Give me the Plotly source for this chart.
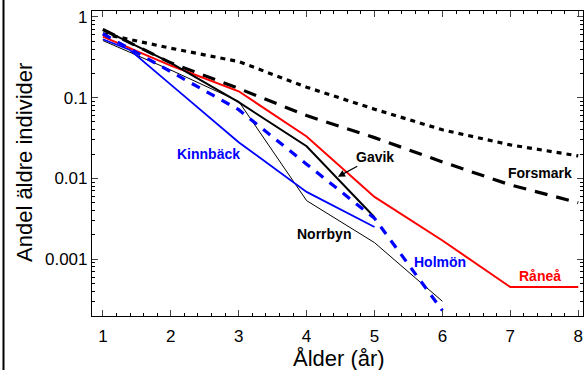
import plotly.graph_objects as go
import numpy as np

ages = [1, 2, 3, 4, 5, 6, 7, 8]

dotted_vals = [0.62, 0.41, 0.28, 0.135, 0.072, 0.04, 0.026, 0.019]
forsmark_vals = [0.70, 0.27, 0.13, 0.06, 0.032, 0.016, 0.0083, 0.005]
raneaa_vals = [0.57, 0.25, 0.12, 0.033, 0.0059, 0.0017, 0.00045, 0.00045]
gavik_ages = [1, 2, 3, 4, 5]
gavik_vals = [0.70, 0.27, 0.088, 0.025, 0.0033]
norrbyn_ages = [1, 2, 3, 4, 5, 6]
norrbyn_vals = [0.51, 0.22, 0.09, 0.0053, 0.0016, 0.0003]
kinnback_ages = [1, 1.4, 2, 3, 4, 5]
kinnback_vals = [0.53, 0.39, 0.145, 0.028, 0.0068, 0.0025]
holmon_ages = [1, 2, 3, 4, 5, 6]
holmon_vals = [0.62, 0.21, 0.071, 0.015, 0.0032, 0.00023]

fig = go.Figure()

def add(x, y, color, width, dash):
    fig.add_trace(go.Scatter(x=x, y=y, mode="lines", showlegend=False,
                             line=dict(color=color, width=width, dash=dash),
                             hoverinfo="skip"))

add(ages, dotted_vals, "black", 3.2, "5px,5px")
add(ages, forsmark_vals, "black", 3.2, "13px,9px")
add(ages, raneaa_vals, "#ff0000", 2, "solid")
add(norrbyn_ages, norrbyn_vals, "black", 1, "solid")
add(kinnback_ages, kinnback_vals, "#0000ff", 1.8, "solid")
add(gavik_ages, gavik_vals, "black", 2, "solid")
add(holmon_ages, holmon_vals, "#0000ff", 3.2, "9px,8px")

font_lbl = dict(family="Liberation Sans, Arial", size=14)

def label(text, x, ly, color):
    fig.add_annotation(x=x, y=ly, text="<b>%s</b>" % text, showarrow=False,
                       font=dict(color=color, **font_lbl), xanchor="center", yanchor="middle")

label("Kinnbäck", 2.56, -1.70, "#0000ff")
label("Forsmark", 7.43, -1.93, "black")
label("Norrbyn", 4.26, -2.69, "black")
label("Holmön", 5.96, -3.04, "#0000ff")
label("Råneå", 7.44, -3.21, "#ff0000")
fig.add_annotation(x=4.46, y=-1.98, text="<b>Gavik</b>", showarrow=True,
                   ax=37, ay=-20, arrowhead=2, arrowsize=1.2, arrowwidth=1.2,
                   arrowcolor="black", font=dict(color="black", **font_lbl))

plot_h = 305
plot_w = 491
fig.add_annotation(xref="paper", yref="paper", x=(339 - 92) / plot_w, y=-(358 - 316) / plot_h,
                   text="Ålder (år)", showarrow=False, xanchor="center", yanchor="middle",
                   font=dict(family="Liberation Sans, Arial", size=22, color="black"))
fig.add_annotation(xref="paper", yref="paper", x=(24 - 92) / plot_w, y=(316 - 163) / plot_h,
                   text="Andel äldre individer", showarrow=False, textangle=-90,
                   xanchor="center", yanchor="middle",
                   font=dict(family="Liberation Sans, Arial", size=22, color="black"))

fig.add_shape(type="line", xref="paper", yref="paper",
              x0=(3.5 - 92) / plot_w, x1=(3.5 - 92) / plot_w,
              y0=(316 + 60) / plot_h, y1=-(60) / plot_h,
              line=dict(color="black", width=2))

minor_y = [m * 10.0 ** e for e in range(-4, 1) for m in range(2, 10)]

fig.update_xaxes(range=[0.84, 8.07], tickvals=ages, ticks="inside", ticklen=6,
                 showline=True, linecolor="black", linewidth=1.2, mirror="ticks",
                 showgrid=False, zeroline=False,
                 tickfont=dict(family="Liberation Sans, Arial", size=17, color="black"),
                 ticklabelstandoff=4,
                 minor=dict(ticks="inside", ticklen=3, dtick=0.2, showgrid=False,
                            tickcolor="black"))
fig.update_yaxes(type="log", range=[-3.705, 0.074], tickvals=[0.001, 0.01, 0.1, 1],
                 ticktext=["0.001", "0.01", "0.1", "1"], ticks="inside", ticklen=6,
                 showline=True, linecolor="black", linewidth=1.2, mirror="ticks",
                 showgrid=False, zeroline=False,
                 tickfont=dict(family="Liberation Sans, Arial", size=17, color="black"),
                 minor=dict(ticks="inside", ticklen=3, tickvals=minor_y, showgrid=False,
                            tickcolor="black"))

fig.update_layout(width=588, height=370, margin=dict(l=92, r=5, t=11, b=54),
                  paper_bgcolor="white", plot_bgcolor="white")

fig.write_html("out.html")
